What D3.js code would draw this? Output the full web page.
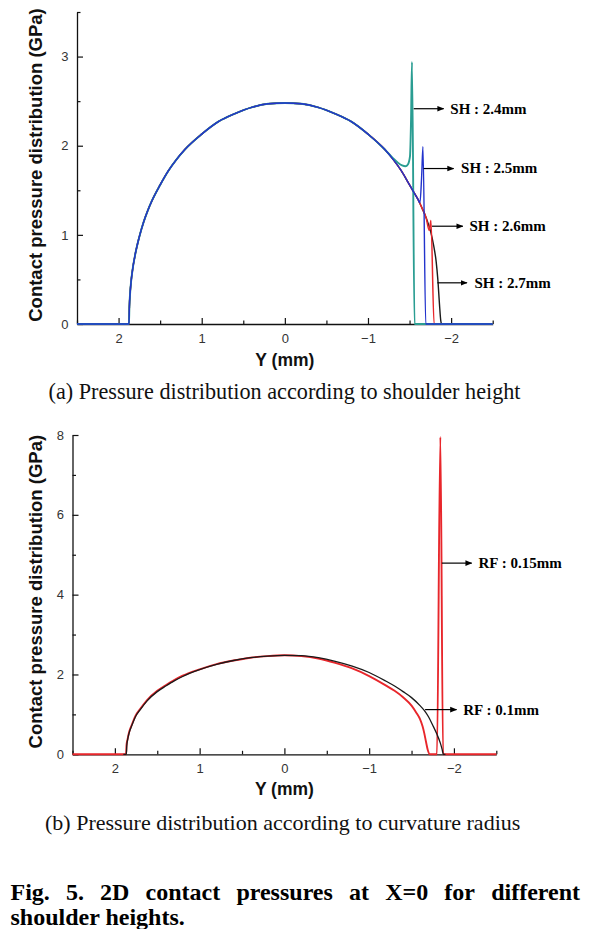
<!DOCTYPE html>
<html>
<head>
<meta charset="utf-8">
<script src="https://cdn.jsdelivr.net/npm/d3@7"></script>
<style>
  html, body { margin: 0; padding: 0; background: #fff; }
  svg { display: block; }
</style>
</head>
<body>
<svg id="fig" width="595" height="929"></svg>
<script>
// ---------- DATA ----------
// Chart (a): contact pressure (GPa) vs Y (mm) for shoulder heights
const sh27X = [2.5, 1.875, 1.87, 1.86, 1.85, 1.83, 1.80, 1.75, 1.70, 1.65, 1.60, 1.50, 1.40, 1.30, 1.20, 1.00, 0.80, 0.60, 0.40, 0.20, 0, -0.20, -0.40, -0.60, -0.80, -1.00, -1.20, -1.30, -1.40, -1.50, -1.55, -1.60, -1.65, -1.70, -1.75, -1.79, -1.82, -1.84, -1.86, -1.875, -1.885, -2.5];
const sh27Y = [0, 0, 0.19, 0.36, 0.47, 0.62, 0.78, 0.98, 1.14, 1.27, 1.38, 1.56, 1.72, 1.85, 1.96, 2.13, 2.27, 2.36, 2.43, 2.47, 2.48, 2.47, 2.43, 2.36, 2.27, 2.13, 1.96, 1.85, 1.72, 1.56, 1.48, 1.40, 1.30, 1.19, 1.05, 0.88, 0.70, 0.50, 0.22, 0.04, 0, 0];

const sh26X = [2.5, 1.875, 1.87, 1.86, 1.85, 1.83, 1.80, 1.75, 1.70, 1.65, 1.60, 1.50, 1.40, 1.30, 1.20, 1.00, 0.80, 0.60, 0.40, 0.20, 0, -0.20, -0.40, -0.60, -0.80, -1.00, -1.20, -1.30, -1.40, -1.50, -1.55, -1.60, -1.65, -1.70, -1.737, -1.757, -1.795, -2.5];
const sh26Y = [0, 0, 0.19, 0.36, 0.47, 0.62, 0.78, 0.98, 1.14, 1.27, 1.38, 1.56, 1.72, 1.85, 1.96, 2.13, 2.27, 2.36, 2.43, 2.47, 2.48, 2.47, 2.43, 2.36, 2.27, 2.13, 1.96, 1.85, 1.72, 1.56, 1.48, 1.40, 1.30, 1.19, 1.05, 1.16, 0, 0];

const sh25X = [2.5, 1.875, 1.87, 1.86, 1.85, 1.83, 1.80, 1.75, 1.70, 1.65, 1.60, 1.50, 1.40, 1.30, 1.20, 1.00, 0.80, 0.60, 0.40, 0.20, 0, -0.20, -0.40, -0.60, -0.80, -1.00, -1.20, -1.30, -1.40, -1.50, -1.55, -1.60, -1.625, -1.645, -1.661, -1.695, -2.5];
const sh25Y = [0, 0, 0.19, 0.36, 0.47, 0.62, 0.78, 0.98, 1.14, 1.27, 1.38, 1.56, 1.72, 1.85, 1.96, 2.13, 2.27, 2.36, 2.43, 2.47, 2.48, 2.47, 2.43, 2.36, 2.27, 2.13, 1.96, 1.85, 1.72, 1.56, 1.48, 1.40, 1.36, 1.65, 1.99, 0, 0];

const sh24X = [2.5, 1.875, 1.87, 1.86, 1.85, 1.83, 1.80, 1.75, 1.70, 1.65, 1.60, 1.50, 1.40, 1.30, 1.20, 1.00, 0.80, 0.60, 0.40, 0.20, 0, -0.20, -0.40, -0.60, -0.80, -1.00, -1.20, -1.30, -1.36, -1.41, -1.45, -1.48, -1.505, -1.518, -1.529, -1.56, -2.5];
const sh24Y = [0, 0, 0.19, 0.36, 0.47, 0.62, 0.78, 0.98, 1.14, 1.27, 1.38, 1.56, 1.72, 1.85, 1.96, 2.13, 2.27, 2.36, 2.43, 2.47, 2.48, 2.47, 2.43, 2.36, 2.27, 2.13, 1.96, 1.86, 1.81, 1.78, 1.77, 1.79, 1.88, 2.30, 2.94, 0, 0];

// Chart (b): contact pressure (GPa) vs Y (mm) for curvature radius
const rf10X = [1.90, 1.865, 1.86, 1.85, 1.83, 1.80, 1.76, 1.70, 1.62, 1.50, 1.40, 1.30, 1.20, 1.00, 0.80, 0.60, 0.40, 0.20, 0, -0.20, -0.40, -0.60, -0.80, -1.00, -1.20, -1.30, -1.40, -1.50, -1.60, -1.65, -1.70, -1.75, -1.80, -1.84, -1.86, -1.875, -1.90];
const rf10Y = [0, 0, 0.20, 0.36, 0.55, 0.72, 0.93, 1.12, 1.34, 1.57, 1.71, 1.84, 1.95, 2.12, 2.25, 2.35, 2.42, 2.46, 2.48, 2.47, 2.42, 2.33, 2.21, 2.05, 1.83, 1.71, 1.57, 1.42, 1.22, 1.10, 0.94, 0.73, 0.50, 0.28, 0.13, 0, 0];

const rf15X = [2.5, 1.868, 1.863, 1.85, 1.83, 1.80, 1.76, 1.70, 1.62, 1.50, 1.40, 1.30, 1.20, 1.00, 0.80, 0.60, 0.40, 0.20, 0, -0.20, -0.40, -0.60, -0.80, -1.00, -1.20, -1.30, -1.40, -1.50, -1.56, -1.60, -1.63, -1.65, -1.67, -1.69, -1.715, -1.80, -1.84, -1.872, -2.5];
const rf15Y = [0, 0, 0.22, 0.38, 0.57, 0.74, 0.95, 1.14, 1.36, 1.59, 1.73, 1.86, 1.97, 2.13, 2.26, 2.35, 2.42, 2.46, 2.48, 2.46, 2.40, 2.29, 2.15, 1.96, 1.72, 1.59, 1.43, 1.22, 1.03, 0.88, 0.70, 0.53, 0.32, 0.12, 0, 0, 7.95, 0, 0];

// Tick values
const xMajorTicks = [2, 1, 0, -1, -2];
const xMinorTicks = [2.5, 1.5, 0.5, -0.5, -1.5, -2.5];
const yMajorTicksA = [0, 1, 2, 3];
const yMinorTicksA = [0.5, 1.5, 2.5, 3.5];
const yMajorTicksB = [0, 2, 4, 6, 8];
const yMinorTicksB = [1, 3, 5, 7];

// Annotation labels with their data-space anchors (y, arrow start x, arrow end x, text x)
const annotA = [
  { label: "SH : 2.4mm", y: 2.415, x1: -1.55, x2: -1.91, tx: -1.99 },
  { label: "SH : 2.5mm", y: 1.744, x1: -1.669, x2: -2.03, tx: -2.12 },
  { label: "SH : 2.6mm", y: 1.097, x1: -1.77, x2: -2.14, tx: -2.22 },
  { label: "SH : 2.7mm", y: 0.462, x1: -1.835, x2: -2.19, tx: -2.28 }
];
const annotB = [
  { label: "RF : 0.15mm", y: 4.79, x1: -1.857, x2: -2.21, tx: -2.29 },
  { label: "RF : 0.1mm", y: 1.12, x1: -1.66, x2: -2.03, tx: -2.11 }
];

const yTitle = "Contact pressure distribution (GPa)";
const xTitle = "Y (mm)";
const captionA = "(a) Pressure distribution according to shoulder height";
const captionB = "(b) Pressure distribution according to curvature radius";
const figLine1 = ["Fig.", "5.", "2D", "contact", "pressures", "at", "X=0", "for", "different"];
const figLine2 = "shoulder heights.";

// ---------- DRAWING ----------
const svg = d3.select("#fig");
svg.append("rect").attr("width", 595).attr("height", 929).attr("fill", "#fff");

const SANS = "'Liberation Sans', Arial, Helvetica, sans-serif";
const SERIF = "'Liberation Serif', 'Times New Roman', serif";

svg.append("defs").append("marker")
  .attr("id", "arrow").attr("viewBox", "0 0 10 10")
  .attr("refX", 9).attr("refY", 5)
  .attr("markerWidth", 7).attr("markerHeight", 7)
  .attr("markerUnits", "userSpaceOnUse")
  .attr("orient", "auto")
  .append("path").attr("d", "M0,1 L10,5 L0,9 Z").attr("fill", "#000");

function zip(xs, ys) { return xs.map((x, i) => [x, ys[i]]); }

function drawChart(opt) {
  const x = d3.scaleLinear().domain([2.5, -2.5]).range([opt.left, opt.right]);
  const y = d3.scaleLinear().domain([0, opt.yMax]).range([opt.bottom, opt.top]);
  const g = svg.append("g");

  // X axis
  const gx = g.append("g").attr("transform", `translate(0,${opt.bottom})`);
  gx.call(d3.axisBottom(x).tickValues(xMajorTicks).tickSizeInner(-6).tickSizeOuter(0).tickPadding(9.5)
    .tickFormat(d3.format("d")));
  gx.append("g").call(d3.axisBottom(x).tickValues(xMinorTicks).tickSizeInner(-3.5).tickSizeOuter(0).tickFormat(""))
    .select(".domain").remove();
  // Y axis
  const gy = g.append("g").attr("transform", `translate(${opt.left},0)`);
  gy.call(d3.axisLeft(y).tickValues(opt.yMajor).tickSizeInner(-6).tickSizeOuter(0).tickPadding(8.5)
    .tickFormat(d3.format("d")));
  gy.append("g").call(d3.axisLeft(y).tickValues(opt.yMinor).tickSizeInner(-3.5).tickSizeOuter(0).tickFormat(""))
    .select(".domain").remove();

  g.selectAll(".domain").attr("stroke", "#111").attr("stroke-width", 1.3);
  g.selectAll(".tick line").attr("stroke", "#111").attr("stroke-width", 1.2);
  g.selectAll(".tick text").attr("font-family", SANS).attr("font-size", 13).attr("fill", "#333");

  // Titles
  g.append("text").attr("transform", `translate(41.5,${(opt.top + opt.bottom) / 2 - 3}) rotate(-90)`)
    .attr("text-anchor", "middle").attr("font-family", SANS).attr("font-weight", "bold")
    .attr("font-size", 18.5).attr("fill", "#111").text(yTitle);
  g.append("text").attr("x", x(0)).attr("y", opt.bottom + opt.xTitleOffset)
    .attr("text-anchor", "middle").attr("font-family", SANS).attr("font-weight", "bold")
    .attr("font-size", 17.5).attr("fill", "#111").text(xTitle);

  // Lines
  const line = d3.line().x(d => x(d[0])).y(d => y(d[1])).curve(d3.curveMonotoneX);
  opt.series.forEach(s => {
    g.append("path").datum(zip(s.xs, s.ys)).attr("d", line)
      .attr("fill", "none").attr("stroke", s.color).attr("stroke-width", s.width)
      .attr("stroke-linejoin", "round");
  });

  // Annotations
  opt.annots.forEach(a => {
    g.append("line").attr("x1", x(a.x1)).attr("x2", x(a.x2)).attr("y1", y(a.y)).attr("y2", y(a.y))
      .attr("stroke", "#000").attr("stroke-width", 1.2).attr("marker-end", "url(#arrow)");
    g.append("text").attr("x", x(a.tx)).attr("y", y(a.y)).attr("dy", "0.33em")
      .attr("font-family", SERIF).attr("font-weight", "bold").attr("font-size", 15)
      .attr("fill", "#000").text(a.label);
  });
}

drawChart({
  left: 77, right: 492.7, top: 12, bottom: 324, yMax: 3.5, xTitleOffset: 42,
  yMajor: yMajorTicksA, yMinor: yMinorTicksA,
  series: [
    { xs: sh27X, ys: sh27Y, color: "#1a1a1a", width: 1.4 },
    { xs: sh26X, ys: sh26Y, color: "#e8262b", width: 1.5 },
    { xs: sh24X, ys: sh24Y, color: "#2a9d92", width: 1.9 },
    { xs: sh25X, ys: sh25Y, color: "#2233cc", width: 1.4 }
  ],
  annots: annotA
});

drawChart({
  left: 72.5, right: 496.3, top: 435, bottom: 754.3, yMax: 8, xTitleOffset: 41,
  yMajor: yMajorTicksB, yMinor: yMinorTicksB,
  series: [
    { xs: rf15X, ys: rf15Y, color: "#e8262b", width: 1.9 },
    { xs: rf10X, ys: rf10Y, color: "#1a1a1a", width: 1.3 }
  ],
  annots: annotB
});

// Captions
svg.append("text").attr("x", 48.5).attr("y", 399).attr("font-family", SERIF)
  .attr("font-size", 22.2).attr("fill", "#111").text(captionA);
svg.append("text").attr("x", 45).attr("y", 830).attr("font-family", SERIF)
  .attr("font-size", 22).attr("fill", "#111").text(captionB);

// Justified bold figure caption, line 1
const l1 = svg.append("g");
const words = figLine1.map(w => l1.append("text").attr("y", 900).attr("font-family", SERIF)
  .attr("font-weight", "bold").attr("font-size", 24).attr("fill", "#000").text(w));
const widths = words.map(t => t.node().getComputedTextLength());
const lineStart = 10.5, lineEnd = 580;
const gap = (lineEnd - lineStart - d3.sum(widths)) / (figLine1.length - 1);
let cx = lineStart;
words.forEach((t, i) => { t.attr("x", cx); cx += widths[i] + gap; });

svg.append("text").attr("x", 10.5).attr("y", 925).attr("font-family", SERIF)
  .attr("font-weight", "bold").attr("font-size", 24).attr("fill", "#000").text(figLine2);
</script>
</body>
</html>
